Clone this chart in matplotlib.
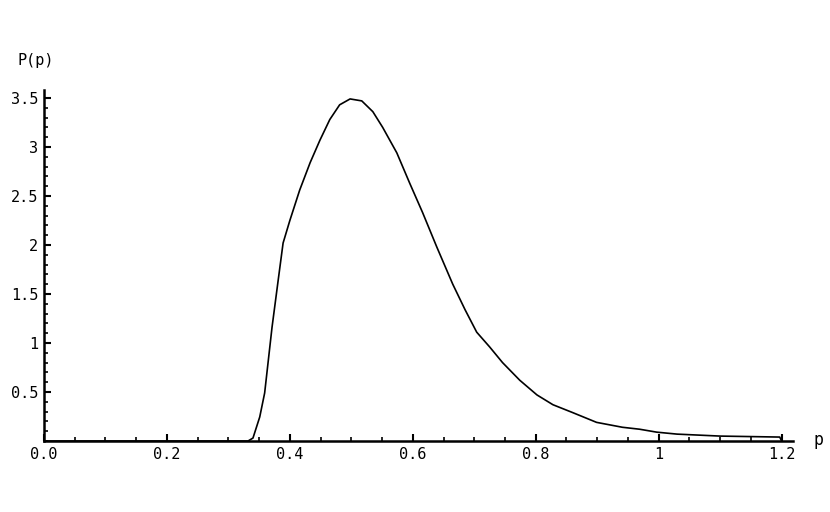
import matplotlib.pyplot as plt
from matplotlib.ticker import MultipleLocator

# Curve points
p_values = [0.0, 0.332, 0.34, 0.351, 0.359, 0.371, 0.381, 0.389, 0.40, 0.416,
            0.433, 0.449, 0.465, 0.481, 0.498, 0.517, 0.535, 0.551, 0.574,
            0.595, 0.616, 0.639, 0.665, 0.685, 0.704, 0.725, 0.746, 0.774,
            0.802, 0.828, 0.86, 0.899, 0.941, 0.969, 0.997, 1.03, 1.1, 1.197,
            1.2]
P_values = [0.0, 0.0, 0.03, 0.245, 0.49, 1.16, 1.64, 2.02, 2.25, 2.56,
            2.84, 3.07, 3.28, 3.43, 3.49, 3.47, 3.36, 3.2, 2.94,
            2.63, 2.33, 1.98, 1.6, 1.34, 1.11, 0.96, 0.80, 0.62,
            0.47, 0.37, 0.29, 0.19, 0.14, 0.12, 0.09, 0.07, 0.05, 0.04,
            0.0]

x_ticks = [0.0, 0.2, 0.4, 0.6, 0.8, 1.0, 1.2]
x_ticklabels = ["0.0", "0.2", "0.4", "0.6", "0.8", "1", "1.2"]
y_ticks = [0.5, 1.0, 1.5, 2.0, 2.5, 3.0, 3.5]
y_ticklabels = ["0.5", "1", "1.5", "2", "2.5", "3", "3.5"]

plt.rcParams["font.family"] = "DejaVu Sans Mono"

fig = plt.figure(figsize=(8.3, 5.12), dpi=100)
ax = fig.add_axes([0.053, 0.1387, 0.902, 0.6853])

ax.plot(p_values, P_values, color="black", linewidth=1.2)

ax.set_xlim(0, 1.218)
ax.set_ylim(0, 3.58)

for side in ["top", "right"]:
    ax.spines[side].set_visible(False)
ax.spines["left"].set_linewidth(1.8)
ax.spines["bottom"].set_linewidth(1.8)

ax.set_xticks(x_ticks)
ax.set_xticklabels(x_ticklabels)
ax.set_yticks(y_ticks)
ax.set_yticklabels(y_ticklabels)
ax.xaxis.set_minor_locator(MultipleLocator(0.05))
ax.yaxis.set_minor_locator(MultipleLocator(0.1))
ax.tick_params(which="major", direction="in", length=5, width=1.5,
               labelsize=11, pad=4)
ax.tick_params(which="minor", direction="in", length=3, width=1.2)

# axis labels in Mathematica style
fig.text(0.043, 0.882, "P(p)", fontsize=11, ha="center", va="center")
fig.text(0.986, 0.14, "p", fontsize=12, ha="center", va="center")

fig.savefig("out.png", dpi=100)
